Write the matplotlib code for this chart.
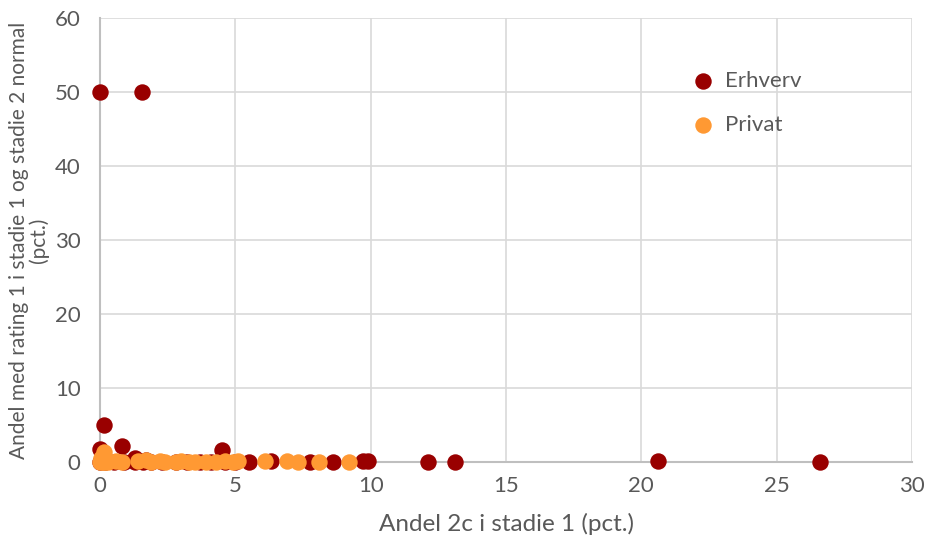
import matplotlib
matplotlib.use("Agg")
import matplotlib.pyplot as plt

# Data
erhverv_x = [0.0, 1.55, 0.15, 0.0, 0.8, 4.5, 1.3, 1.7,
             0.0, 0.2, 0.5, 0.9, 1.3, 1.6, 1.9, 2.3, 2.8, 3.2, 3.7, 4.1, 4.6, 5.0,
             5.5, 6.3, 7.75, 8.6, 9.7, 9.9, 12.1, 13.1, 20.6, 26.6]
erhverv_y = [50.0, 50.0, 5.0, 1.8, 2.1, 1.6, 0.6, 0.3,
             0.0, 0.0, 0.0, 0.0, 0.0, 0.0, 0.0, 0.0, 0.0, 0.0, 0.0, 0.0, 0.0, 0.0,
             0.0, 0.2, 0.0, 0.0, 0.1, 0.2, 0.0, 0.0, 0.1, 0.0]
privat_x = [0.0, 0.05, 0.1, 0.15, 0.2, 0.3, 0.6, 0.8, 1.4, 1.7, 1.9, 2.2, 2.4,
            2.8, 3.0, 3.3, 3.5, 3.9, 4.3, 4.6, 4.9, 5.1, 6.1, 6.9, 7.3, 8.1, 9.2]
privat_y = [0.0, 0.5, 0.0, 1.3, 0.0, 0.0, 0.1, 0.0, 0.1, 0.3, 0.0, 0.1, 0.0,
            0.0, 0.1, 0.0, 0.0, 0.0, 0.0, 0.1, 0.0, 0.1, 0.2, 0.2, 0.0, 0.0, 0.0]

x_ticks = [0, 5, 10, 15, 20, 25, 30]
y_ticks = [0, 10, 20, 30, 40, 50, 60]

plt.rcParams['font.family'] = ['Lato', 'DejaVu Sans']
txt = '#595959'

fig = plt.figure(figsize=(9.28, 5.46), dpi=100)
ax = fig.add_axes([0.1078, 0.1538, 0.8750, 0.8132])

ax.scatter(erhverv_x, erhverv_y, s=140, color='#990000', label='Erhverv', zorder=3,
           linewidths=0, clip_on=False)
ax.scatter(privat_x, privat_y, s=140, color='#FF9933', label='Privat', zorder=4,
           linewidths=0, clip_on=False)

ax.set_xlim(0, 30)
ax.set_ylim(0, 60)
ax.set_xticks(x_ticks)
ax.set_yticks(y_ticks)
ax.grid(True, color='#d9d9d9', linewidth=1.2, zorder=0)
ax.set_axisbelow(True)
for s in ['top', 'right']:
    ax.spines[s].set_visible(False)
for s in ['left', 'bottom']:
    ax.spines[s].set_color('#bfbfbf')
    ax.spines[s].set_linewidth(1.5)
ax.tick_params(axis='both', length=0, labelsize=16, labelcolor=txt, pad=10)
ax.tick_params(axis='y', pad=14)
ax.set_xlabel('Andel 2c i stadie 1 (pct.)', fontsize=17.5, color=txt, labelpad=12)
ax.set_ylabel('Andel med rating 1 i stadie 1 og stadie 2 normal\n(pct.)', fontsize=15,
              color=txt, labelpad=4, linespacing=1.0)

leg = ax.legend(loc='upper left', bbox_to_anchor=(0.69, 0.925), frameon=False,
                fontsize=16, labelspacing=1.05, handletextpad=0.0, markerscale=1.0)
for t in leg.get_texts():
    t.set_color(txt)

fig.savefig('out.png', dpi=100)
